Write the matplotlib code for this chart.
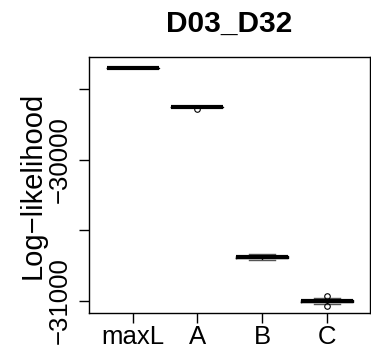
import matplotlib
matplotlib.use("Agg")
import matplotlib.pyplot as plt

plt.rcParams['font.family'] = ['Liberation Sans', 'DejaVu Sans']

groups = ["maxL", "A", "B", "C"]
maxL = [-29345, -29345, -29345, -29345, -29345]
A = [-29626, -29625, -29624, -29624, -29624, -29623, -29622, -29636]
B = [-30708, -30698, -30694, -30690, -30688, -30686, -30682, -30678, -30668]
C = [-31032, -31018, -31006, -31003, -31000, -30997, -30994, -30982, -30968]

yticks = [-31000, -30500, -30000, -29500]
ytick_labels = ["\u221231000", "", "\u221230000", ""]

fig = plt.figure(figsize=(3.71, 3.55), dpi=100)
ax = fig.add_axes([89 / 371, 1 - 313 / 355, 281 / 371, 256 / 355])

ax.boxplot([maxL, A, B, C], widths=0.8,
           boxprops=dict(color='black', linewidth=1),
           medianprops=dict(color='black', linewidth=3, solid_capstyle='butt'),
           whiskerprops=dict(color='black', linewidth=1, linestyle='--'),
           capprops=dict(color='#555555', linewidth=1),
           flierprops=dict(marker='o', markersize=4, markerfacecolor='none',
                           markeredgecolor='black', markeredgewidth=0.8))

ax.set_xlim(0.325, 4.67)
ax.set_ylim(-31085, -29270)
ax.set_xticks(range(1, 5))
ax.set_xticklabels(groups)
ax.set_yticks(yticks)
ax.set_yticklabels(ytick_labels)
plt.setp(ax.get_yticklabels(), rotation=90, va='center')

ax.tick_params(axis='both', labelsize=18.5, length=7, width=1, color='black')
ax.tick_params(axis='x', pad=2)
ax.tick_params(axis='y', pad=5.5)
for s in ax.spines.values():
    s.set_linewidth(1)

ax.set_ylabel("Log\u2212likelihood", fontsize=21)
ax.yaxis.set_label_coords(-0.152, 0.5)
ax.set_title("D03_D32", fontsize=21.5, fontweight='bold', pad=18)

fig.savefig("out.png", dpi=100)
